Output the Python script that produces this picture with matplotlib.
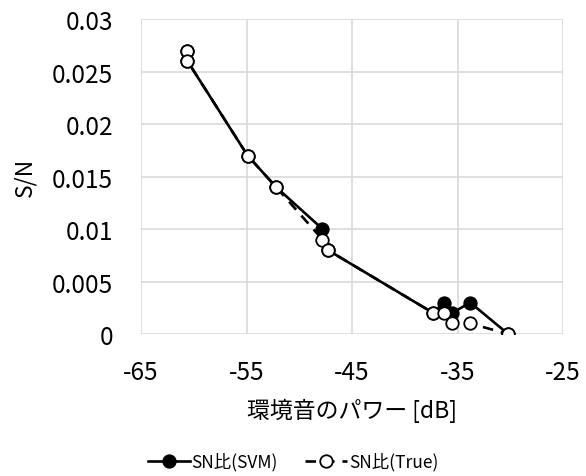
import matplotlib
matplotlib.use("Agg")
import matplotlib.pyplot as plt

plt.rcParams['font.family'] = ['Noto Sans CJK JP', 'DejaVu Sans']

# ambient noise power [dB] and S/N values
noise_db = [-60.6, -60.6, -54.9, -52.2, -47.8, -47.3, -37.3, -36.3, -35.5, -33.8, -30.2]
sn_svm = [0.027, 0.026, 0.017, 0.014, 0.010, 0.008, 0.002, 0.003, 0.002, 0.003, 0.0]
sn_true = [0.027, 0.026, 0.017, 0.014, 0.009, 0.008, 0.002, 0.002, 0.001, 0.001, 0.0]

xticks = [-65, -55, -45, -35, -25]
yticks = [0, 0.005, 0.01, 0.015, 0.02, 0.025, 0.03]
ytick_labels = ["0", "0.005", "0.01", "0.015", "0.02", "0.025", "0.03"]

fig = plt.figure(figsize=(5.86, 4.77), dpi=100)
ax = fig.add_axes([0.2406, 0.2977, 0.7202, 0.6603])

ax.plot(noise_db, sn_svm, color='black', lw=1.9, marker='o', ms=9,
        mfc='black', mec='black', mew=1.3, label='SN比(SVM)', zorder=3)
ax.plot(noise_db, sn_true, color='black', lw=1.9, ls=(0, (4, 3)), marker='o', ms=9,
        mfc='white', mec='black', mew=1.3, label='SN比(True)', zorder=4)

ax.set_xlim(-65, -25)
ax.set_ylim(0, 0.03)
ax.set_xticks(xticks)
ax.set_xticklabels([str(t) for t in xticks])
ax.set_yticks(yticks)
ax.set_yticklabels(ytick_labels)
ax.tick_params(length=0, labelsize=17.5)
ax.tick_params(axis='x', pad=18)
ax.tick_params(axis='y', pad=20)
ax.grid(True, color='#d9d9d9', lw=1.2)
ax.set_axisbelow(True)
for s in ax.spines.values():
    s.set_visible(False)

ax.set_xlabel('環境音のパワー [dB]', fontsize=16.5, labelpad=9)
ax.set_ylabel('S/N', fontsize=16.5, labelpad=11)

fig.legend(loc='center', bbox_to_anchor=(0.5, 0.03), ncol=2, frameon=False,
           fontsize=12.5, handlelength=2.4, handletextpad=0.1, columnspacing=1.6)

fig.savefig('out.png', dpi=100)
